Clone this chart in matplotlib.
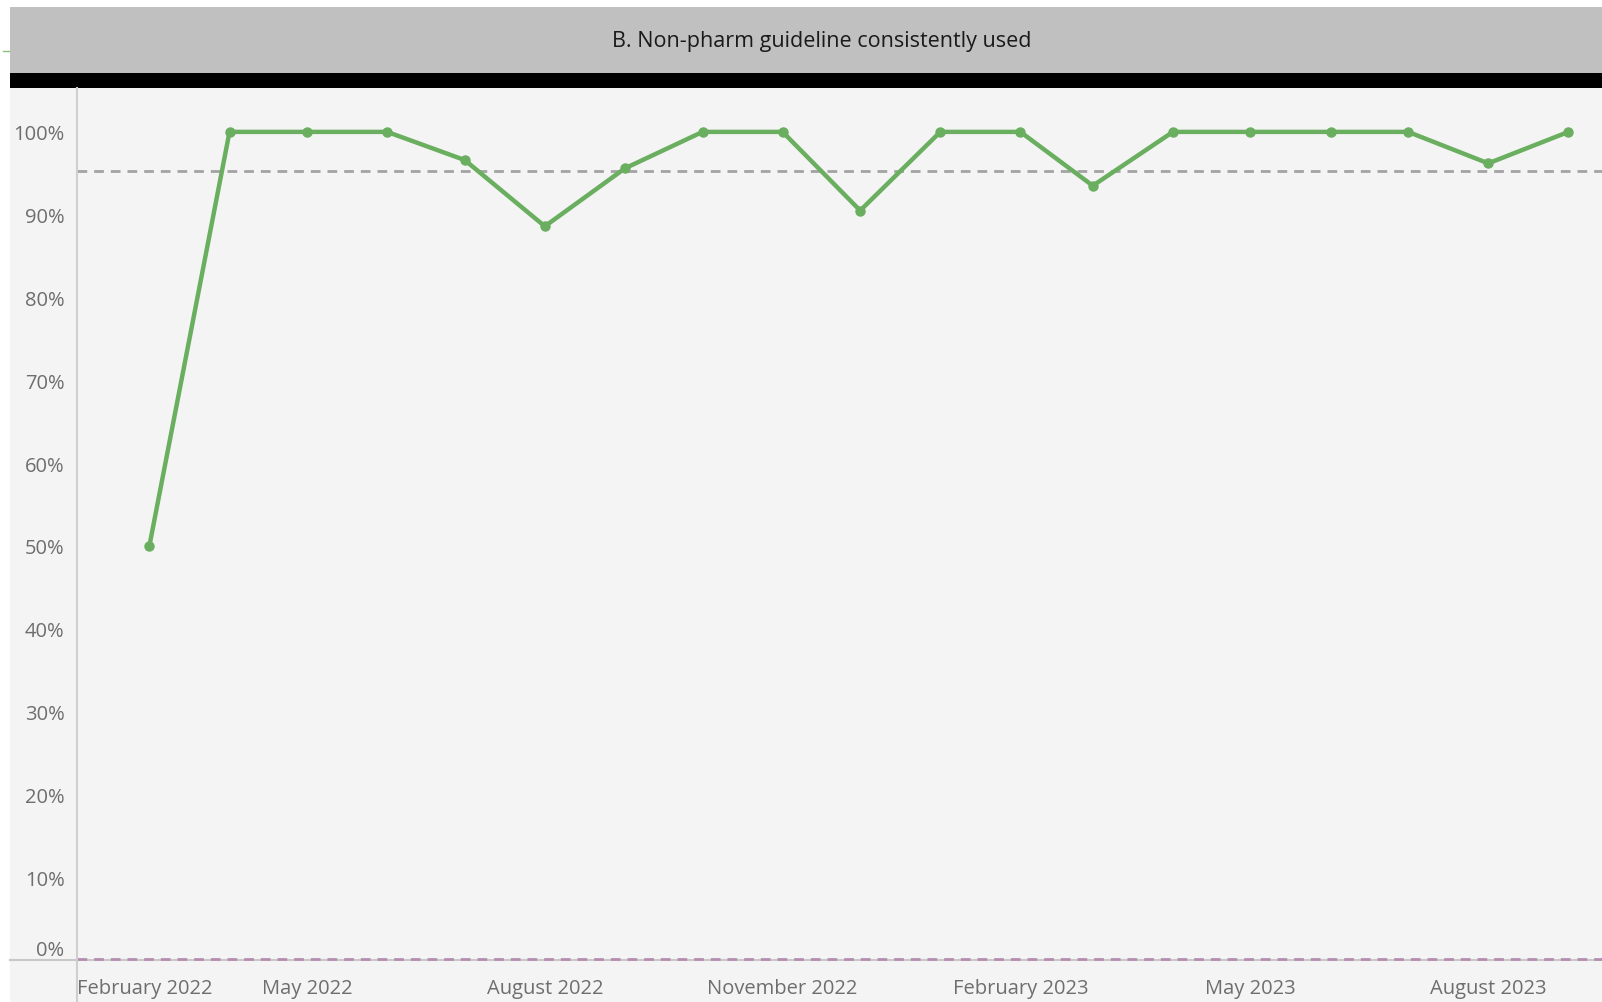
import matplotlib
matplotlib.use("Agg")
import matplotlib.pyplot as plt
import matplotlib.dates as mdates
import matplotlib.ticker as ticker
from matplotlib.patches import Rectangle
from matplotlib.lines import Line2D
import datetime as dt

plt.rcParams['font.family'] = ['Open Sans', 'DejaVu Sans']

months = ['2022-03', '2022-04', '2022-05', '2022-06', '2022-07', '2022-08', '2022-09',
          '2022-10', '2022-11', '2022-12', '2023-01', '2023-02', '2023-03', '2023-04',
          '2023-05', '2023-06', '2023-07', '2023-08', '2023-09']
pct_used = [0.50, 1.00, 1.00, 1.00, 0.966, 0.886, 0.956, 1.00, 1.00, 0.905,
            1.00, 1.00, 0.935, 1.00, 1.00, 1.00, 1.00, 0.962, 1.00]
target = 0.953
title = 'B. Non-pharm guideline consistently used'
tick_months = ['2022-02', '2022-05', '2022-08', '2022-11', '2023-02', '2023-05', '2023-08']

dates = [dt.datetime.strptime(m, '%Y-%m') for m in months]
tick_dates = [dt.datetime.strptime(m, '%Y-%m') for m in tick_months]

W, H = 1602, 1003
fig = plt.figure(figsize=(W/100, H/100), dpi=100)
fig.patch.set_facecolor('white')

# backgrounds: plot panel, title bar, black band
fig.add_artist(Rectangle((10/W, 0), 1 - 10/W, 1 - 88/H, transform=fig.transFigure,
                         facecolor='#f4f4f4', edgecolor='none', zorder=-2))
fig.add_artist(Rectangle((10/W, 1 - 74/H), 1 - 10/W, 66/H, transform=fig.transFigure,
                         facecolor='#c0c0c0', edgecolor='none', zorder=-2))
fig.add_artist(Rectangle((10/W, 1 - 89/H), 1 - 10/W, 15/H, transform=fig.transFigure,
                         facecolor='black', edgecolor='none', zorder=-1))
fig.text(822/W, 1 - 41/H, title, ha='center', va='center', fontsize=15.5, color='#1a1a1a')
fig.add_artist(Line2D([3/W, 9/W], [1 - 52/H, 1 - 52/H], color='#8cc07a', lw=1, zorder=-1))

# axis lines extended like the dashboard frame
fig.add_artist(Line2D([10/W, 1], [1 - 961/H, 1 - 961/H], color='#c8c8c8', lw=1.5, zorder=-1))
fig.add_artist(Line2D([77/W, 77/W], [0, 1 - 961/H], color='#cfcfcf', lw=1.5, zorder=-1))

ax = fig.add_axes([77/W, 1 - 961/H, 1 - 77/W, (961 - 89)/H])
ax.set_facecolor('none')
ax.set_zorder(2)

ax.axhline(target, color='#a3a3a3', lw=2, linestyle=(0, (3.5, 2.5)), zorder=2)
ax.axhline(0.001, color='#b68db2', lw=2, linestyle=(0, (3.5, 2.5)), zorder=2, clip_on=False)
ax.plot(dates, pct_used, color='#6aae5f', lw=3.2, marker='o', markersize=6.5,
        solid_joinstyle='round', zorder=3)

ax.set_xlim(dt.datetime(2022, 2, 1), dt.datetime(2023, 9, 14))
ax.set_ylim(0, 1.053)

ax.yaxis.set_major_locator(ticker.MultipleLocator(0.1))
ax.yaxis.set_major_formatter(ticker.FuncFormatter(lambda v, p: '%d%%' % round(v * 100)))
ax.set_xticks(tick_dates)
ax.xaxis.set_major_formatter(mdates.DateFormatter('%B %Y'))

ax.tick_params(axis='y', length=0, pad=9, labelsize=14.5, labelcolor='#6e6e6e')
ax.tick_params(axis='x', length=0, pad=13, labelsize=14.5, labelcolor='#6e6e6e')
for lbl in ax.get_yticklabels():
    if lbl.get_text() == '0%':
        lbl.set_va('bottom')
ax.get_xticklabels()[0].set_ha('left')

for s in ['top', 'right', 'bottom']:
    ax.spines[s].set_visible(False)
ax.spines['left'].set_color('#cfcfcf')
ax.spines['left'].set_linewidth(1.5)

fig.savefig('out.png', dpi=100)
